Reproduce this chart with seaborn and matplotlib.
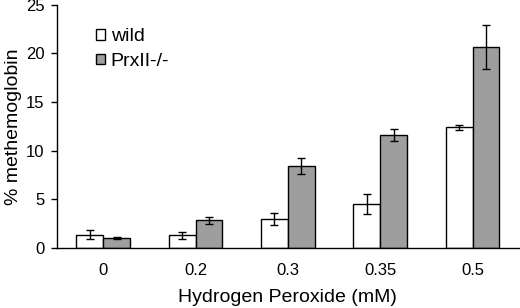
import numpy as np
import pandas as pd
import seaborn as sns
from matplotlib import pyplot as plt

## values
doses = ['0', '0.2', '0.3', '0.35', '0.5']
wild_mean = [1.35, 1.25, 2.95, 4.5, 12.4]
wild_err = [0.5, 0.35, 0.65, 1.0, 0.25]
prx_mean = [1.0, 2.8, 8.4, 11.6, 20.7]
prx_err = [0.1, 0.35, 0.85, 0.6, 2.25]
groups = ['wild', 'PrxII-/-']

df = pd.DataFrame({
    'dose': doses * 2,
    'value': wild_mean + prx_mean,
    'err': wild_err + prx_err,
    'group': [groups[0]] * 5 + [groups[1]] * 5,
})

sns.set_style('ticks', {'axes.edgecolor': 'black', 'text.color': 'black',
                        'axes.labelcolor': 'black', 'xtick.color': 'black',
                        'ytick.color': 'black'})
plt.rcParams['font.family'] = ['Liberation Sans', 'DejaVu Sans']

fig = plt.figure(figsize=(5.2, 3.08), dpi=100)
ax = fig.add_axes([0.1096, 0.196, 0.888, 0.788])

sns.barplot(data=df, x='dose', y='value', hue='group', order=doses,
            hue_order=groups, palette=['white', '#9e9e9e'],
            edgecolor='black', linewidth=1.0, width=0.58,
            errorbar=None, ax=ax)

## error bars on the bar centres that seaborn laid out
for cont, g in zip(ax.containers, groups):
    sub = df[df['group'] == g].set_index('dose').loc[doses]
    xs = [p.get_x() + p.get_width() / 2 for p in cont.patches]
    ax.errorbar(xs, sub['value'], yerr=sub['err'], fmt='none',
                ecolor='black', elinewidth=1.0, capsize=3, capthick=1.0)

ax.set_ylim(0, 25)
ax.set_yticks([0, 5, 10, 15, 20, 25])
ax.set_xlim(-0.5, 4.5)
sns.despine(ax=ax)
ax.spines['left'].set_linewidth(1.0)
ax.spines['bottom'].set_linewidth(1.0)
ax.tick_params(axis='x', length=0, pad=11, labelsize=12)
ax.tick_params(axis='y', length=4, width=1, labelsize=12, pad=5)
ax.set_xlabel('Hydrogen Peroxide (mM)', fontsize=14, labelpad=8)
ax.set_ylabel('% methemoglobin', fontsize=14, labelpad=3)

ax.legend(loc='upper left', bbox_to_anchor=(0.068, 0.935), frameon=False,
          fontsize=14, handlelength=0.45, handleheight=0.45,
          handletextpad=0.3, labelspacing=0.38, borderaxespad=0)

fig.savefig('out.png', dpi=100)
